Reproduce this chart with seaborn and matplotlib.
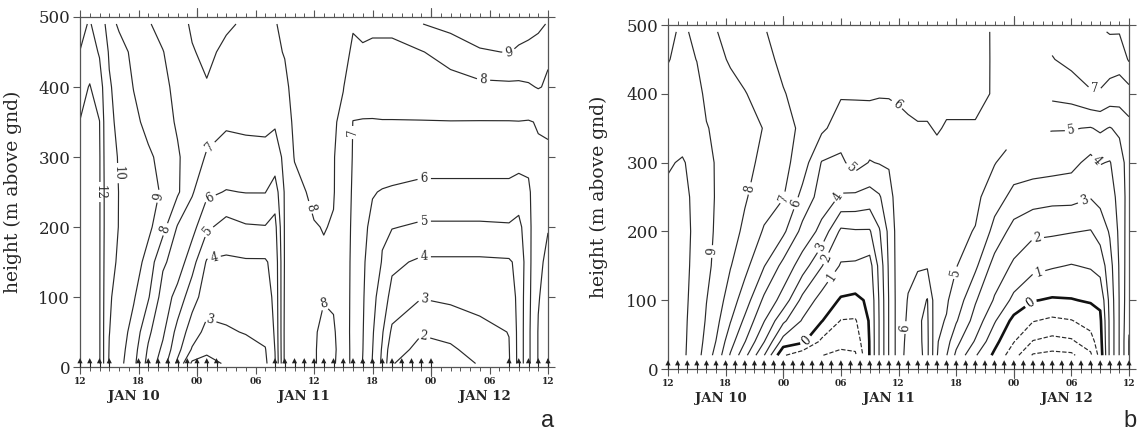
import numpy as np
import matplotlib
matplotlib.use("Agg")
import matplotlib.pyplot as plt
import matplotlib.transforms as mtransforms
import seaborn as sns

sns.set_theme(style="white")
plt.rcParams['font.family'] = ['DejaVu Serif']

# ---------------- panel a data (hour since Jan 10 12:00, height m) ----------------
heights_a = [5, 25, 50, 100, 150, 200, 250, 300, 350, 400, 450, 490]
hours_a = [0, 1, 2, 2.5, 3, 4, 5.5, 7, 8.5, 10, 11.5, 13, 15, 17, 19, 20, 21, 22,
           24, 25, 26, 27, 28, 29, 30, 31, 32, 35, 38, 41, 44, 45, 46, 47, 48]
profiles_a = [
    [12.6, 12.6, 12.5, 12.5, 12.4, 12.4, 12.3, 12.2, 12.02, 11.7, 11.02, 10.7],
    [12.8, 12.8, 12.8, 12.7, 12.7, 12.6, 12.6, 12.5, 12.4, 12.05, 11.5, 11.1],
    [12.1, 12.1, 12.1, 12.1, 12.1, 12.1, 12.1, 12.1, 12.02, 11.5, 10.9, 10.4],
    [10.8, 10.8, 10.8, 10.85, 10.9, 10.95, 10.95, 10.9, 10.85, 10.7, 10.4, 10.1],
    [9.9, 9.95, 10.02, 10.1, 10.3, 10.4, 10.4, 10.3, 10.2, 10.1, 9.9, 9.4],
    [9.35, 9.45, 9.52, 9.7, 9.86, 9.97, 9.98, 9.94, 9.8, 9.67, 9.4, 8.85],
    [8.25, 8.4, 8.65, 9.1, 9.55, 9.54, 9.63, 9.59, 9.23, 8.97, 8.77, 8.46],
    [6.67, 6.88, 7.2, 8.1, 8.6, 9.25, 9.3, 9.15, 8.74, 8.58, 8.39, 8.05],
    [5.45, 5.8, 6.17, 6.58, 7.15, 8.31, 8.9, 8.74, 8.33, 8.18, 8.02, 7.8],
    [3.8, 4.33, 4.67, 5.64, 6.58, 6.93, 8.15, 8.1, 7.9, 7.8, 7.7, 7.7],
    [1.8, 2.9, 3.5, 4.4, 5.4, 6.35, 7.1, 7.55, 7.7, 7.8, 7.95, 8.1],
    [1.7, 2.2, 2.7, 3.5, 3.9, 5.2, 6.2, 6.9, 7.4, 7.95, 8.15, 8.35],
    [2.1, 2.4, 2.9, 3.4, 3.85, 4.6, 5.95, 6.7, 7.1, 7.5, 7.85, 8.1],
    [2.3, 2.7, 3.05, 3.5, 3.9, 4.9, 6.03, 6.75, 7.15, 7.5, 7.8, 7.9],
    [2.8, 2.95, 3.3, 3.6, 3.9, 4.95, 6.03, 6.8, 7.15, 7.5, 7.75, 7.85],
    [3.9, 4.02, 4.1, 4.2, 4.3, 4.7, 5.5, 6.6, 7.1, 7.6, 7.85, 7.95],
    [7.2, 7.2, 7.2, 7.15, 7.1, 7.1, 7.1, 7.2, 7.5, 7.8, 8.05, 8.2],
    [7.5, 7.5, 7.5, 7.5, 7.5, 7.55, 7.7, 8.05, 8.2, 8.3, 8.35, 8.4],
    [7.9, 7.9, 7.9, 7.8, 7.85, 7.95, 8.2, 8.35, 8.4, 8.4, 8.45, 8.5],
    [8.3, 8.3, 8.2, 7.95, 7.9, 8.03, 8.3, 8.4, 8.4, 8.4, 8.45, 8.5],
    [8.1, 8.15, 8.1, 7.9, 7.85, 7.95, 8.05, 8.05, 8.1, 8.3, 8.4, 8.5],
    [7.6, 7.6, 7.55, 7.5, 7.45, 7.45, 7.5, 7.6, 7.8, 8.03, 8.2, 8.3],
    [6.7, 6.7, 6.7, 6.75, 6.8, 6.85, 6.9, 6.95, 6.98, 7.5, 7.9, 8.05],
    [5.97, 6.02, 6.05, 6.1, 6.15, 6.2, 6.3, 6.6, 6.95, 7.5, 7.95, 8.1],
    [4.95, 5.02, 5.1, 5.3, 5.5, 5.8, 6.05, 6.5, 6.95, 7.45, 7.9, 8.1],
    [3.8, 3.9, 4.1, 4.5, 4.95, 5.1, 5.95, 6.5, 6.97, 7.4, 7.9, 8.1],
    [2.05, 2.3, 2.8, 3.7, 4.2, 5.05, 5.9, 6.45, 6.97, 7.4, 7.95, 8.05],
    [1.5, 1.8, 2.05, 3.05, 3.85, 4.85, 5.75, 6.4, 6.98, 7.35, 7.95, 8.98],
    [1.4, 1.85, 2.3, 3.2, 3.85, 4.85, 5.75, 6.4, 6.98, 7.6, 8.4, 9.3],
    [2.1, 2.4, 2.75, 3.3, 3.85, 4.85, 5.75, 6.4, 6.97, 7.75, 8.95, 9.3],
    [2.9, 2.95, 3.02, 3.4, 3.9, 4.9, 5.75, 6.4, 6.97, 7.8, 9.02, 9.3],
    [4.3, 4.3, 4.3, 4.3, 4.2, 4.7, 5.6, 6.35, 6.98, 7.8, 8.9, 9.3],
    [5.8, 5.8, 5.8, 5.75, 5.7, 5.7, 5.8, 6.3, 6.95, 7.9, 8.7, 9.4],
    [7.05, 7.05, 7.05, 6.95, 6.9, 6.85, 6.85, 6.9, 7.05, 8.05, 8.7, 9.15],
    [8.05, 7.9, 7.7, 7.3, 7.1, 6.98, 6.95, 6.95, 7.05, 7.9, 8.1, 8.95],
]
sounding_hours_a = [0, 1, 2, 3] + list(range(6, 15)) + list(range(20, 37)) + list(range(44, 49))
label_pos_a = [(2.1, 250), (3.9, 277), (8.4, 243), (8.9, 196), (13.3, 315), (13.5, 236),
               (13.5, 188), (13.7, 160), (13.3, 66), (23.6, 228), (24.8, 92), (27.7, 335),
               (35.3, 268), (35.3, 207), (35.3, 158), (35.3, 96), (35.3, 46), (41.4, 415),
               (44.0, 448)]

# ---------------- panel b data ----------------
heights_b = [20, 40, 70, 100, 150, 200, 250, 300, 350, 400, 450, 490]
hours_b = [0, 1.5, 3, 4, 5, 6.5, 8, 10, 12, 14, 16, 18, 19.5, 21, 22, 23, 24, 25, 26,
           27, 28, 29, 30, 32, 34, 36, 38, 40, 42, 44, 45, 46, 47, 48]
NA = np.nan  # no sounding data
profiles_b = [
    [10.5, 10.5, 10.5, 10.4, 10.3, 10.2, 10.1, 9.95, 9.7, 9.35, 8.95, 8.8],
    [10.2, 10.2, 10.2, 10.2, 10.2, 10.2, 10.15, 10.05, 9.75, 9.5, 9.3, 9.15],
    [9.4, 9.5, 9.6, 9.7, 9.8, 9.85, 9.85, 9.8, 9.6, 9.3, 8.98, 8.8],
    [8.5, 8.7, 8.9, 9.02, 9.2, 9.25, 9.25, 9.2, 9.05, 8.8, 8.5, 8.2],
    [7.7, 7.98, 8.3, 8.55, 8.8, 8.9, 8.95, 8.95, 8.85, 8.6, 8.25, 8.05],
    [5.9, 6.4, 7.05, 7.5, 8.05, 8.4, 8.6, 8.7, 8.7, 8.3, 7.9, 7.6],
    [4.3, 5.05, 5.8, 6.5, 7.3, 7.8, 8.1, 8.3, 8.5, 8.05, 7.6, 7.35],
    [2.05, 3.05, 4.05, 4.8, 6.05, 6.9, 7.45, 7.75, 7.95, 7.6, 7.25, 7.05],
    [-0.9, 0.6, 2.2, 3.6, 4.7, 6.2, 7.05, 7.3, 7.45, 7.05, 6.8, 6.7],
    [-1.6, 0.2, 0.9, 1.7, 3.5, 4.7, 5.7, 6.5, 6.75, 6.7, 6.6, 6.55],
    [-1.97, -1.2, 0.05, 0.6, 2.05, 3.7, 4.55, 4.95, 6.2, 6.5, 6.5, 6.5],
    [-2.3, -1.6, -1.05, -0.1, 0.9, 1.8, 3.9, 4.8, 5.5, 6.1, 6.4, 6.45],
    [-2.15, -1.6, -1.1, -0.2, 0.85, 1.9, 3.8, 5.4, 5.55, 6.1, 6.4, 6.45],
    [0.05, 0.05, 0.1, 0.15, 0.6, 1.9, 3.6, 4.95, 5.6, 6.1, 6.35, 6.4],
    [2.05, 2.05, 2.05, 2.1, 2.3, 2.9, 3.9, 5.05, 5.65, 6.05, 6.3, 6.35],
    [4.05, 4.05, 4.05, 4.05, 4.15, 4.25, 4.6, 5.1, 5.7, 6.05, 6.25, 6.3],
    [5.5, 5.5, 5.5, 5.5, 5.5, 5.5, 5.55, 5.7, 5.9, 6.05, 6.2, 6.3],
    [6.4, 6.3, 6.15, 6.05, 5.8, 5.7, 5.7, 5.75, 5.9, 6.15, 6.25, 6.3],
    [6.8, 6.85, 6.9, 6.5, 5.9, 5.7, 5.7, 5.75, 5.95, 6.2, 6.3, 6.3],
    [7.2, 7.2, 7.15, 7.05, 5.9, 5.7, 5.65, 5.75, 5.95, 6.2, 6.3, 6.3],
    [5.05, 5.1, 5.15, 5.2, 5.3, 5.4, 5.6, 5.8, 6.05, 6.2, 6.3, 6.3],
    [4.05, 4.4, 4.95, 5.1, 5.25, 5.4, 5.5, 5.7, 5.95, 6.15, 6.25, 6.3],
    [2.8, 3.3, 4.1, 4.6, 5.05, 5.25, 5.4, 5.6, 5.95, 6.15, 6.25, 6.3],
    [1.1, 1.9, 2.6, 3.1, 4.2, 4.95, 5.25, 5.55, 5.95, 6.15, 6.25, 6.3],
    [-0.2, 0.3, 1.1, 1.9, 2.6, 3.7, 4.4, 5.05, 5.9, 5.95, 5.92, 5.9],
    [-1.6, -0.95, -0.3, 0.75, 1.85, 2.6, 3.75, 4.45, NA, NA, NA, NA],
    [-3.1, -2.05, -0.95, 0.05, 1.3, 2.2, 3.45, 4.5, NA, NA, NA, NA],
    [-3.3, -2.3, -1.2, -0.1, 1.1, 2.15, 3.3, 4.45, 5.05, 6.25, 6.95, 7.3],
    [-3.2, -2.15, -1.05, -0.05, 0.95, 2.05, 3.3, 4.3, 5.05, 6.4, 7.3, 7.6],
    [-2.2, -1.4, -0.6, 0.1, 1.1, 1.95, 3.05, 3.7, 4.95, 6.9, 7.6, 7.9],
    [-0.6, -0.4, -0.2, 0.2, 1.4, 2.4, 3.3, 4.05, 5.15, 6.9, 7.6, 7.9],
    [2.2, 2.2, 2.2, 2.3, 2.6, 3.1, 3.6, 3.95, 4.95, 6.6, 7.5, 8.05],
    [4.05, 4.05, 4.05, 4.05, 4.1, 4.2, 4.3, 4.5, 5.2, 6.5, 7.4, 8.05],
    [6.05, 6.05, 5.9, 5.8, 5.7, 5.6, 5.5, 5.5, 5.7, 6.6, 8.1, 8.3],
]
sounding_hours_b = list(range(0, 49))
label_pos_b = [(4.3, 171), (8.3, 263), (12.0, 249), (13.5, 240), (18.9, 290), (17.6, 252),
               (15.8, 178), (16.6, 160), (17.0, 134), (25.0, 60), (30.2, 139),
               (23.6, 380), (44.4, 405), (42.0, 348), (45.2, 310),
               (43.5, 239), (38.6, 178), (38.6, 141)]
label_pos_b0 = [(14.5, 40), (37.8, 95)]

hour_labels = ["12", "18", "00", "06", "12", "18", "00", "06", "12"]
date_labels = ["JAN 10", "JAN 11", "JAN 12"]
date_label_hours = [5.5, 23.0, 41.5]

LINE = "#2a2a2a"
AX = "#555555"


def style_axes(ax, ylabel_x):
    ax.set_xlim(0, 48)
    ax.set_ylim(0, 500)
    for s in ax.spines.values():
        s.set_visible(True)
        s.set_color(AX)
        s.set_linewidth(0.9)
    ax.set_yticks(range(0, 501, 100))
    ax.tick_params(axis="y", which="major", direction="out", length=5, width=0.8,
                   color=AX, left=True, right=True, labelleft=True, labelright=False,
                   labelsize=12, pad=2)
    ax.set_xticks(range(0, 49, 6))
    ax.set_xticklabels(hour_labels, fontsize=6.5, fontweight="bold")
    ax.set_xticks(range(0, 49), minor=True)
    ax.tick_params(axis="x", which="major", direction="out", length=5, width=0.8,
                   color=AX, bottom=True, top=True, pad=2)
    ax.tick_params(axis="x", which="minor", direction="out", length=3, width=0.7,
                   color=AX, bottom=True, top=True)
    trans = mtransforms.blended_transform_factory(ax.transData, ax.transAxes)
    for h in (12, 36):
        ax.plot([h, h], [1.0, 1.025], color=AX, lw=0.8, transform=trans, clip_on=False)
        ax.plot([h, h], [0.0, -0.025], color=AX, lw=0.8, transform=trans, clip_on=False)
    for h, t in zip(date_label_hours, date_labels):
        ax.text(h, -0.085, t, transform=trans, ha="center", va="center",
                fontsize=9.5, fontweight="bold")
    ax.set_ylabel("height (m above gnd)", fontsize=13.5)
    ax.yaxis.set_label_coords(ylabel_x, 0.5)
    ax.set_xlabel("")


def draw_markers(ax, hours):
    sns.scatterplot(x=hours, y=[9] * len(hours), marker="^", s=14, color="#222222",
                    edgecolor="none", ax=ax, legend=False, clip_on=False, zorder=4)
    sns.scatterplot(x=hours, y=[4] * len(hours), marker="|", s=22, color="#222222",
                    linewidth=0.8, ax=ax, legend=False, clip_on=False, zorder=4)


fig = plt.figure(figsize=(11.37, 4.36), dpi=100)
fig.patch.set_facecolor("white")
axa = fig.add_axes([80 / 1137, 1 - 367 / 436, 468 / 1137, 350 / 436])
axb = fig.add_axes([668 / 1137, 1 - 369 / 436, 461 / 1137, 344 / 436])

# panel a
Za = np.array(profiles_a).T
csa = axa.contour(hours_a, heights_a, Za, levels=np.arange(2, 13), colors=LINE,
                  linewidths=0.85)
axa.clabel(csa, fmt="%d", fontsize=8.5, inline=True, inline_spacing=3, manual=label_pos_a)
draw_markers(axa, sounding_hours_a)
style_axes(axa, -58 / 468)

# panel b
Zb = np.ma.masked_invalid(np.array(profiles_b).T)
levels_b = [lv for lv in range(-3, 11) if lv != 0]
csb = axb.contour(hours_b, heights_b, Zb, levels=levels_b, colors=LINE, linewidths=0.85)
csb0 = axb.contour(hours_b, heights_b, Zb, levels=[0], colors="#111111", linewidths=1.9)
axb.clabel(csb, fmt="%d", fontsize=8.5, inline=True, inline_spacing=3, manual=label_pos_b)
axb.clabel(csb0, fmt="%d", fontsize=8.5, inline=True, inline_spacing=3, manual=label_pos_b0)
draw_markers(axb, sounding_hours_b)
style_axes(axb, -60 / 461)

fig.text(548 / 1137, 1 - 421 / 436, "a", ha="center", va="center", fontsize=17,
         family="Liberation Sans")
fig.text(1130 / 1137, 1 - 421 / 436, "b", ha="center", va="center", fontsize=17,
         family="Liberation Sans")

fig.savefig("out.png", dpi=100, facecolor="white")
